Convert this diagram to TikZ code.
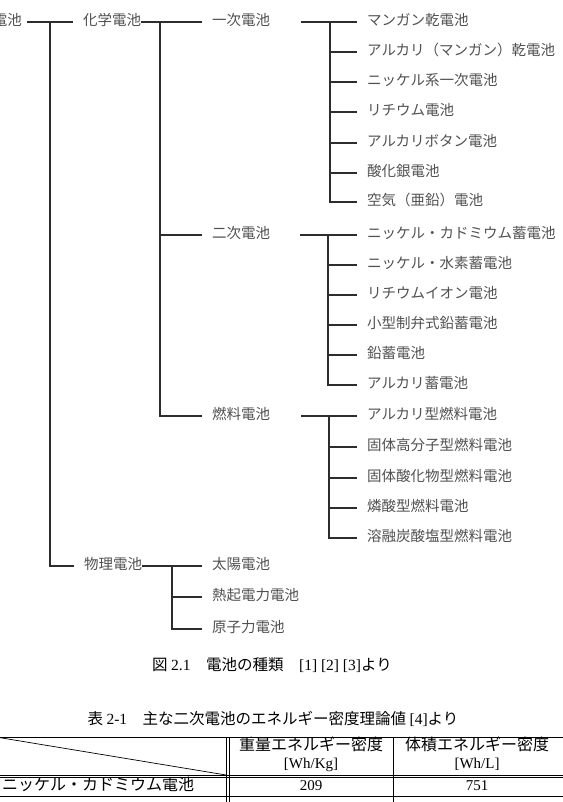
\documentclass[tikz,border=0pt]{standalone}
\usepackage{fontspec}
\setmainfont{Noto Sans CJK JP}
\newfontfamily\latinserif{Liberation Serif}
\usetikzlibrary{positioning}
\definecolor{labelgray}{RGB}{80,80,80}
\definecolor{wiregray}{RGB}{45,45,45}
\tikzset{
  wire/.style={wiregray,line width=1.1pt},
  link/.style={wire,shorten >=10pt},
  kind/.style={anchor=west,inner sep=0pt,text=labelgray,
               text height=0.86em,text depth=0.14em,font=\fontsize{14.5}{16}\selectfont},
  caption/.style={inner sep=0pt,font=\fontsize{15.5}{18}\selectfont},
  rule/.style={black,line width=0.7pt},
  cell/.style={inner sep=0pt,text height=0.86em,text depth=0.14em,font=\fontsize{16}{18}\selectfont},
  num/.style={cell,font=\fontsize{15}{18}\selectfont\latinserif},
}

\begin{document}
\begin{tikzpicture}[x=1pt,y=-1pt]
  \path[use as bounding box] (0,0) rectangle (562,802);

  \node[kind,anchor=east] (root) at (22,22) {電池};
  \node[kind] (chem) at (83,22) {化学電池};
  \node[kind] (phys) at (84,566) {物理電池};
  \foreach \nm/\yy/\txt in {prim/22/一次電池, sec/235/二次電池, fuel/416/燃料電池,
    solar/566/太陽電池, thermo/597/熱起電力電池, atomic/629/原子力電池}
    \node[kind] (\nm) at (212,\yy) {\txt};
  \foreach \nm/\yy/\txt in {
    p1/22/マンガン乾電池, p2/52/アルカリ（マンガン）乾電池, p3/82/ニッケル系一次電池,
    p4/112/リチウム電池, p5/143/アルカリボタン電池, p6/173/酸化銀電池, p7/202/空気（亜鉛）電池,
    s1/235/ニッケル・カドミウム蓄電池, s2/265/ニッケル・水素蓄電池, s3/295/リチウムイオン電池,
    s4/325/小型制弁式鉛蓄電池, s5/355/鉛蓄電池, s6/385/アルカリ蓄電池,
    f1/416/アルカリ型燃料電池, f2/447/固体高分子型燃料電池, f3/478/固体酸化物型燃料電池,
    f4/508/燐酸型燃料電池, f5/538/溶融炭酸塩型燃料電池}
    \node[kind] (\nm) at (367,\yy) {\txt};

  \coordinate (bar0) at (50,22);
  \coordinate (bar1) at (160,22);
  \coordinate (bar2) at (172,566);
  \coordinate (outp) at (301,22);  \coordinate (barp) at (330,22);
  \coordinate (outs) at (300,235); \coordinate (bars) at (328,235);
  \coordinate (outf) at (301,416); \coordinate (barf) at (329,416);

  \draw[link,shorten <=5pt] (root.east) -- (chem.west);
  \draw[link] (bar0) |- (phys.west);
  \draw[link] (chem.east) -- (prim.west);
  \draw[link] (bar1 |- sec.west) -- (sec.west);
  \draw[link] (bar1) |- (fuel.west);
  \draw[link] (phys.east) -- (solar.west);
  \draw[link] (bar2 |- thermo.west) -- (thermo.west);
  \draw[link] (bar2) |- (atomic.west);
  \foreach \grp/\first/\last/\mids in {p/p1/p7/{p2,p3,p4,p5,p6}, s/s1/s6/{s2,s3,s4,s5}, f/f1/f5/{f2,f3,f4}}{
    \draw[link] (out\grp) -- (\first.west);
    \draw[link] (bar\grp) |- (\last.west);
    \foreach \nm in \mids
      \draw[link] (bar\grp |- \nm.west) -- (\nm.west);
  }

  \node[caption] (figcap) at (272,665)
    {図 {\latinserif 2.1}　電池の種類　{\latinserif [1] [2] [3]}より};
  \node[caption] (tabcap) at (273,719)
    {表 {\latinserif 2-1}　主な二次電池のエネルギー密度理論値 {\latinserif [4]}より};

  \draw[rule] (-4,737) -- (566,737);
  \draw[rule] (-4,775) -- (566,775) (-4,777.8) -- (566,777.8);
  \draw[rule] (-4,796) -- (566,796);
  \draw[rule] (226,737) -- (226,806) (229,737) -- (229,806);
  \draw[rule] (393,737) -- (393,806);
  \draw[rule] (-4,737) -- (226,775);

  \node[cell] (mass) at (311,747) {重量エネルギー密度};
  \node[num] (massunit) at (311,765) {[Wh/Kg]};
  \node[cell] (vol) at (477,747) {体積エネルギー密度};
  \node[num] (volunit) at (477,765) {[Wh/L]};
  \node[cell,anchor=west] (nicd) at (2,787) {ニッケル・カドミウム電池};
  \node[num] (nicdmass) at (311,787) {209};
  \node[num] (nicdvol) at (477,787) {751};
\end{tikzpicture}
\end{document}
